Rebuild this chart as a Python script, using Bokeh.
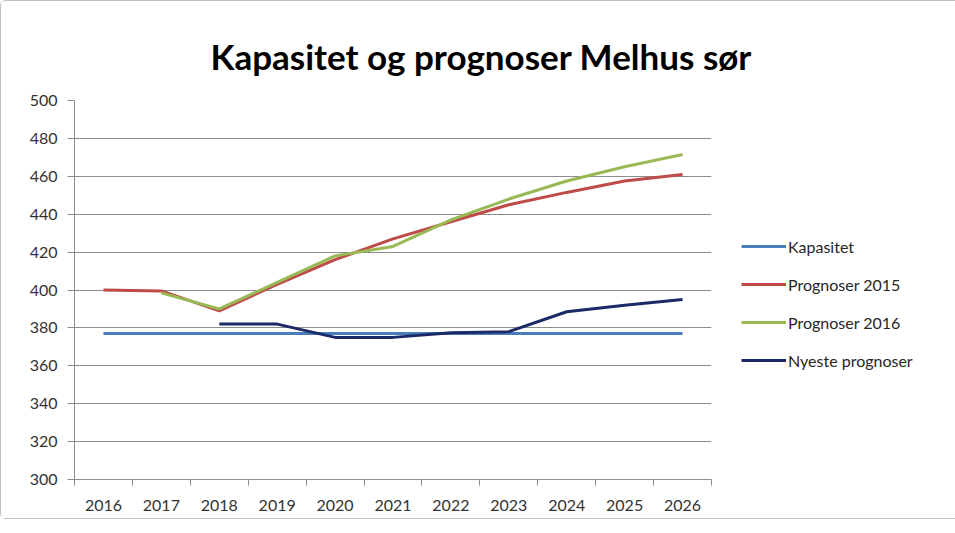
from bokeh.plotting import figure
from bokeh.models import FixedTicker, Legend, LegendItem, Range1d
from bokeh.embed import file_html
from bokeh.resources import INLINE

years = [2016, 2017, 2018, 2019, 2020, 2021, 2022, 2023, 2024, 2025, 2026]
kapasitet = [377, 377, 377, 377, 377, 377, 377, 377, 377, 377, 377]
prog2015_years = years
prog2015 = [400, 399.5, 389, 403, 416, 427, 436, 445, 451.5, 457.5, 461]
prog2016_years = years[1:]
prog2016 = [398.5, 390, 404, 418, 423, 437, 448, 457.5, 465, 471.5]
nyeste_years = years[2:]
nyeste = [382, 382, 375, 375, 377.5, 378, 388.5, 392, 395]
y_ticks = [300, 320, 340, 360, 380, 400, 420, 440, 460, 480, 500]

FONT = "Lato"

p = figure(width=939, height=517, output_backend="svg", toolbar_location=None,
           x_range=Range1d(2015.5, 2026.5), y_range=Range1d(300, 500),
           frame_width=637, frame_height=379,
           min_border_left=73, min_border_top=99, min_border_right=229, min_border_bottom=39)

p.title.text = "Kapasitet og prognoser Melhus sør"
p.title.text_font = FONT
p.title.text_font_size = "35px"
p.title.text_font_style = "bold"
p.title.align = "left"
p.title.offset = 136
p.title.standoff = 48
p.title.text_color = "black"

p.outline_line_color = None
p.xgrid.grid_line_color = None
p.ygrid.grid_line_color = "#8c8c8c"
p.ygrid.grid_line_width = 1

p.yaxis.ticker = FixedTicker(ticks=y_ticks)
p.yaxis.axis_line_color = "#8c8c8c"
p.yaxis.major_tick_line_color = "#8c8c8c"
p.yaxis.major_tick_out = 7
p.yaxis.major_tick_in = 0
p.yaxis.minor_tick_line_color = None
p.yaxis.major_label_text_font = FONT
p.yaxis.major_label_text_font_size = "16px"
p.yaxis.major_label_text_color = "#333333"
p.yaxis.major_label_standoff = 10

p.xaxis.ticker = FixedTicker(ticks=years, minor_ticks=[y - 0.5 for y in years] + [years[-1] + 0.5])
p.xaxis.axis_line_color = "#8c8c8c"
p.xaxis.major_tick_line_color = None
p.xaxis.minor_tick_line_color = "#8c8c8c"
p.xaxis.minor_tick_out = 6
p.xaxis.minor_tick_in = 0
p.xaxis.major_label_text_font = FONT
p.xaxis.major_label_text_font_size = "16px"
p.xaxis.major_label_text_color = "#333333"
p.xaxis.major_label_standoff = 14

r1 = p.line(years, kapasitet, line_color="#4A7EBB", line_width=3)
r2 = p.line(prog2015_years, prog2015, line_color="#BE4B48", line_width=3)
r3 = p.line(prog2016_years, prog2016, line_color="#98B954", line_width=3)
r4 = p.line(nyeste_years, nyeste, line_color="#1B2A66", line_width=3)

legend = Legend(items=[
    LegendItem(label="Kapasitet", renderers=[r1]),
    LegendItem(label="Prognoser 2015", renderers=[r2]),
    LegendItem(label="Prognoser 2016", renderers=[r3]),
    LegendItem(label="Nyeste prognoser", renderers=[r4]),
], location=(30, 100))
legend.border_line_color = None
legend.background_fill_alpha = 0
legend.padding = 0
legend.margin = 0
legend.spacing = 0
legend.glyph_width = 45
legend.glyph_height = 38
legend.label_height = 38
legend.label_standoff = 2
legend.label_text_font = FONT
legend.label_text_font_size = "16px"
legend.label_text_color = "#262626"
p.add_layout(legend, "right")

p.styles = {"border": "1px solid #bfbfbf", "border-radius": "6px"}

open("out.html", "w").write(file_html(p, INLINE))
